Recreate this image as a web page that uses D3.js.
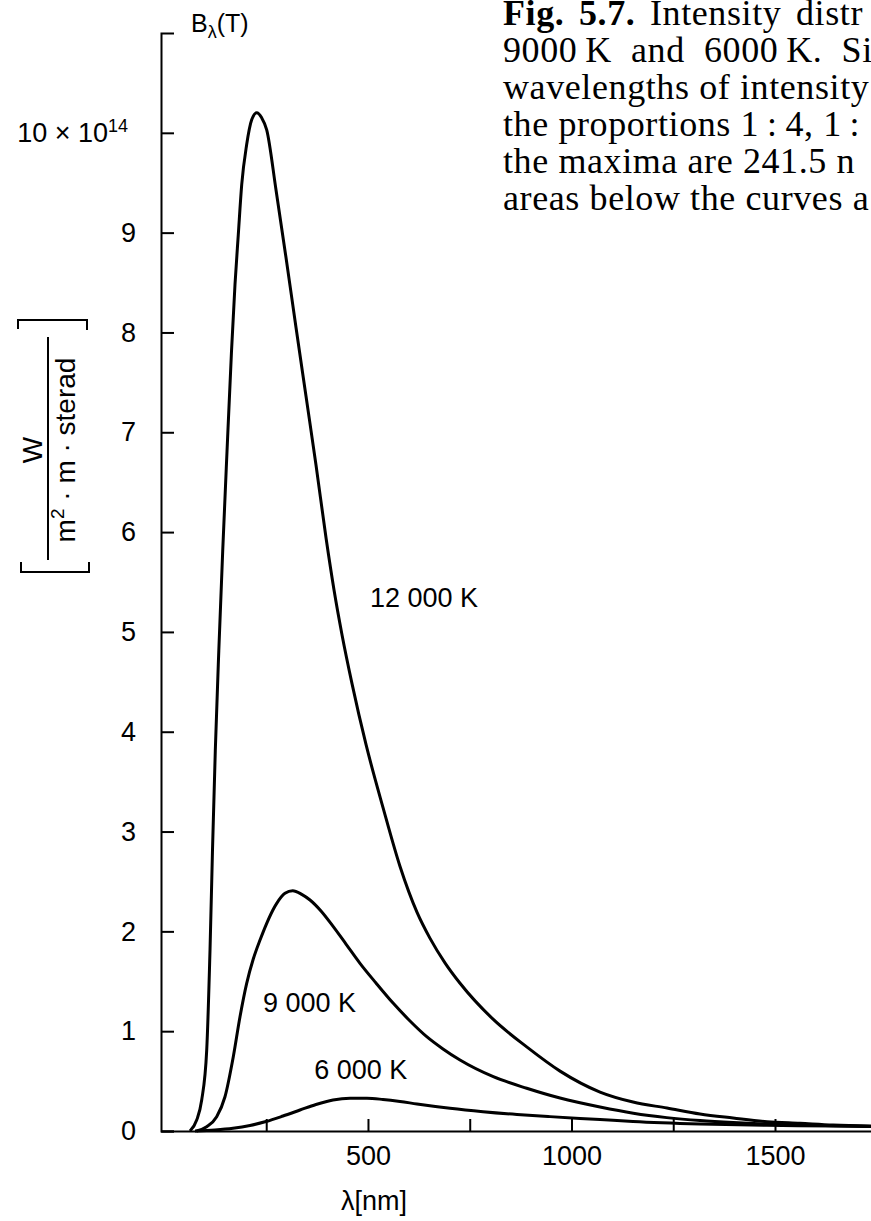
<!DOCTYPE html>
<html>
<head>
<meta charset="utf-8">
<script src="https://cdn.jsdelivr.net/npm/d3@7"></script>
<style>
  html, body { margin: 0; padding: 0; background: #fff; }
  svg { display: block; }
  .sans { font-family: "Liberation Sans", Arial, Helvetica, sans-serif; }
  .serif { font-family: "Liberation Serif", "Times New Roman", serif; }
</style>
</head>
<body>
<script>
// ---------------- data ----------------
// wavelength in nm, intensity in units of 10^14 W/(m^2·m·sterad)
const curve12000 = [
  [62.7,0],[79.2,0.11],[91.5,0.31],[103.8,0.81],[111.9,1.81],[118.0,2.81],[124.9,3.81],
  [133.5,4.81],[143.1,5.81],[153.7,6.81],[164.7,7.81],[173.3,8.48],[181.4,8.98],
  [189.8,9.48],[201.9,9.88],[214.3,10.13],[226.6,10.20],[238.9,10.15],[251.2,10.03],
  [274.0,9.43],[298.6,8.75],[323.2,8.05],[347.8,7.36],[372.4,6.67],[397.0,5.94],
  [416.6,5.42],[436.3,4.97],[460.9,4.48],[495.3,3.87],[537.0,3.24],[578.8,2.65],
  [620.6,2.19],[652.5,1.93],[690,1.68],[726.2,1.48],[807.3,1.12],[890.8,0.84],[971.9,0.60],
  [1070.1,0.39],[1151.2,0.29],[1234.7,0.23],[1315.8,0.17],[1396.9,0.13],
  [1480.4,0.093],[1561.5,0.077],[1642.6,0.06],[1750,0.05]
];
const curve9000 = [
  [79.2,0],[103.8,0.043],[128.3,0.143],[148.7,0.343],[169.1,0.744],[185.6,1.145],
  [202.0,1.479],[218,1.72],[234.8,1.913],[275.8,2.281],[296.1,2.381],[315.1,2.407],[337.2,2.371],
  [357.6,2.314],[384.6,2.204],[414.8,2.047],[446.0,1.873],[480.4,1.680],[519.7,1.483],
  [562.2,1.279],[603.3,1.102],[644.3,0.945],[684.3,0.822],[726.1,0.711],[807.9,0.544],
  [890.0,0.428],[971.8,0.33],[1070.1,0.24],[1151.9,0.178],[1234.0,0.134],
  [1315.9,0.104],[1397.6,0.084],[1479.6,0.070],[1643.3,0.053],[1750,0.045]
];
const curve6000 = [
  [75.0,0],[124.1,0.010],[168.4,0.027],[210.1,0.055],[249.5,0.095],[291.2,0.150],
  [333.0,0.210],[372.3,0.266],[414.1,0.311],[455.9,0.328],[497.6,0.328],[536.9,0.316],
  [578.7,0.296],[620.4,0.271],[701.5,0.228],[782.6,0.194],[866.1,0.166],[947.2,0.144],
  [1070.1,0.115],[1151.2,0.095],[1315.8,0.070],[1480.4,0.057],[1642.6,0.050],[1750,0.045]
];
const curveNames = ["12 000 K", "9 000 K", "6 000 K"];
// label anchor (wavelength, intensity) of each curve name
const curveLabelAt = [[505, 5.25], [242, 1.19], [368, 0.52]];

const yTickValues = [0,1,2,3,4,5,6,7,8,9,10];
const yTickLabels = ["0","1","2","3","4","5","6","7","8","9","10 × 10"];
const yTopExponent = "14";
const xTickValues = [250,500,750,1000,1250,1500,1750];
const xTickLabels = {500:"500", 1000:"1000", 1500:"1500"};
const xTitle = "λ[nm]";
const yTitleTop = ["B", "λ", "(T)"];
const unitNumerator = "W";
const unitDenominator = ["m", "2", " · m · sterad"];

const captionLines = [
  [["Fig. 5.7.", true], [" Intensity distr", false]],
  [["9000\u2009K  and  6000\u2009K.  Sin", false]],
  [["wavelengths of intensity", false]],
  [["the proportions 1\u2009:\u20094, 1\u2009:", false]],
  [["the maxima are 241.5 n", false]],
  [["areas below the curves a", false]]
];

// ---------------- drawing ----------------
const W = 871, H = 1221;
const svg = d3.select("body").append("svg")
  .attr("width", W).attr("height", H)
  .attr("viewBox", `0 0 ${W} ${H}`);
svg.append("rect").attr("width", W).attr("height", H).attr("fill", "#fff");

const x = d3.scaleLinear().domain([-8.5, 1750]).range([161, 876.75]);
const y = d3.scaleLinear().domain([0, 11]).range([1131, 33]);

// y axis
const yAxis = d3.axisLeft(y)
  .tickValues(yTickValues)
  .tickSizeInner(-13)
  .tickSizeOuter(-13)
  .tickPadding(25)
  .tickFormat((d, i) => yTickLabels[i]);
const gy = svg.append("g").attr("class", "sans")
  .attr("transform", `translate(${x.range()[0]},0)`)
  .call(yAxis);
gy.selectAll("path, line").attr("stroke", "#000").attr("stroke-width", 2);
gy.selectAll("text").attr("font-size", 27).attr("fill", "#000")
  .attr("font-family", "Liberation Sans, Arial, sans-serif");
gy.selectAll(".tick").filter(d => d === 10).select("text")
  .attr("x", -33)
  .append("tspan").attr("font-size", 18).attr("dy", "-0.55em").text(yTopExponent);

// x axis
const xAxis = d3.axisBottom(x)
  .tickValues(xTickValues)
  .tickSizeInner(-12)
  .tickSizeOuter(0)
  .tickPadding(15)
  .tickFormat(d => xTickLabels[d] || "");
const gx = svg.append("g").attr("class", "sans")
  .attr("transform", `translate(0,${y(0)})`)
  .call(xAxis);
gx.selectAll("path, line").attr("stroke", "#000").attr("stroke-width", 2);
gx.selectAll("text").attr("font-size", 27).attr("fill", "#000")
  .attr("font-family", "Liberation Sans, Arial, sans-serif");

// curves
const line = d3.line()
  .x(d => x(d[0])).y(d => y(d[1]))
  .curve(d3.curveMonotoneX);
[curve12000, curve9000, curve6000].forEach(c => {
  svg.append("path").datum(c)
    .attr("d", line)
    .attr("fill", "none")
    .attr("stroke", "#000")
    .attr("stroke-width", 3)
    .attr("stroke-linejoin", "round");
});

// curve names
svg.append("g").attr("class", "sans")
  .selectAll("text").data(curveNames).join("text")
  .attr("x", (d, i) => x(curveLabelAt[i][0]))
  .attr("y", (d, i) => y(curveLabelAt[i][1]))
  .attr("font-size", 27)
  .attr("fill", "#000")
  .text(d => d);

// x title
svg.append("text").attr("class", "sans")
  .attr("x", x(515)).attr("y", 1210)
  .attr("text-anchor", "middle")
  .attr("font-size", 27)
  .text(xTitle);

// B_lambda(T) at top of y axis
const bt = svg.append("text").attr("class", "sans")
  .attr("x", 191).attr("y", 32).attr("font-size", 25);
bt.append("tspan").text(yTitleTop[0]);
bt.append("tspan").attr("font-size", 18).attr("dy", 6).text(yTitleTop[1]);
bt.append("tspan").attr("dy", -6).text(yTitleTop[2]);

// unit label in brackets (rotated)
const ug = svg.append("g").attr("class", "sans");
const bracket = d3.path();
bracket.moveTo(18, 329); bracket.lineTo(18, 320); bracket.lineTo(87, 320); bracket.lineTo(87, 330);
bracket.moveTo(21, 562); bracket.lineTo(21, 572); bracket.lineTo(89, 572); bracket.lineTo(89, 562);
ug.append("path").attr("d", bracket.toString())
  .attr("fill", "none").attr("stroke", "#000").attr("stroke-width", 2);
ug.append("line").attr("x1", 48).attr("x2", 48).attr("y1", 337).attr("y2", 560)
  .attr("stroke", "#000").attr("stroke-width", 2);
ug.append("text")
  .attr("transform", "translate(42,450) rotate(-90)")
  .attr("text-anchor", "middle").attr("font-size", 28)
  .text(unitNumerator);
const den = ug.append("text")
  .attr("transform", "translate(75,450) rotate(-90)")
  .attr("text-anchor", "middle").attr("font-size", 28)
  .style("white-space", "pre");
den.append("tspan").text(unitDenominator[0]);
den.append("tspan").attr("font-size", 19).attr("dy", -11).text(unitDenominator[1]);
den.append("tspan").attr("dy", 11).text(unitDenominator[2]);

// caption (cropped at the right edge, as in the reference)
const cap = svg.append("g").attr("class", "serif");
captionLines.forEach((ln, i) => {
  const t = cap.append("text")
    .attr("x", 503).attr("y", 25 + i * 37)
    .attr("font-size", 36)
    .attr("letter-spacing", 0.6)
    .attr("word-spacing", i === 0 ? 5 : 0)
    .style("white-space", "pre");
  ln.forEach(seg => {
    t.append("tspan").attr("font-weight", seg[1] ? "bold" : "normal").text(seg[0]);
  });
});
</script>
</body>
</html>
